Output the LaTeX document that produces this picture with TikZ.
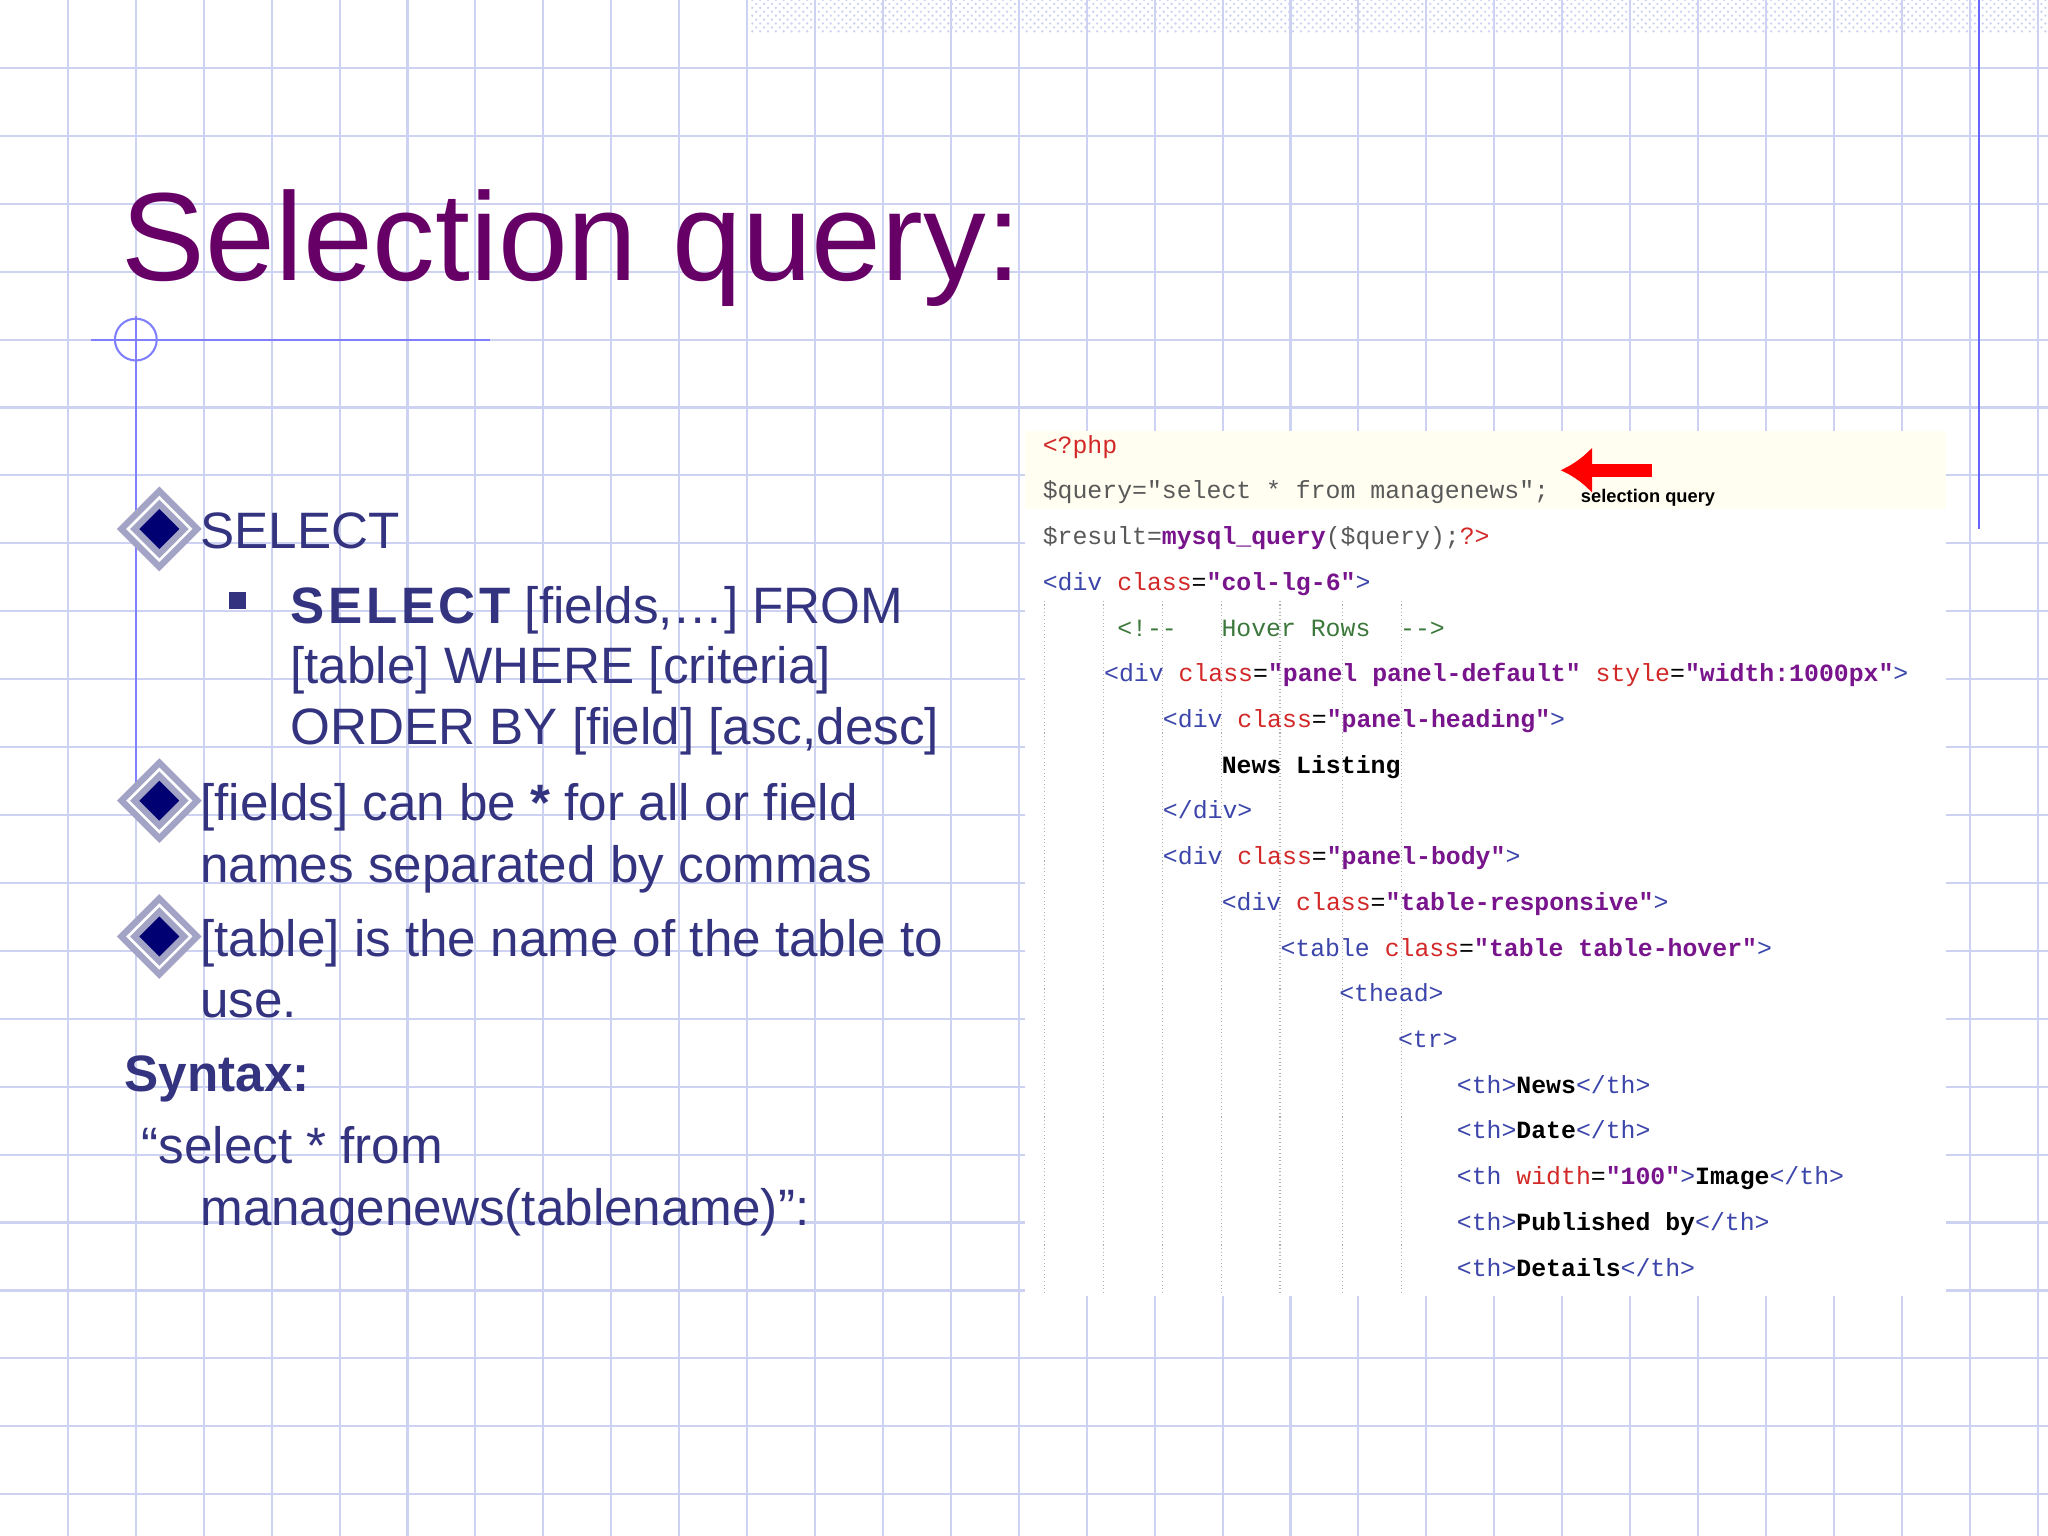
\documentclass[tikz,border=0pt]{standalone}
\usepackage{fontspec}
\setmainfont{Liberation Sans}
\setmonofont{Liberation Mono}
\usetikzlibrary{shapes.geometric,patterns,arrows.meta}
\definecolor{gridblue}{RGB}{205,210,242}
\definecolor{titlepurple}{RGB}{102,0,102}
\definecolor{bodyblue}{RGB}{51,51,128}
\definecolor{tagblue}{RGB}{60,70,170}
\definecolor{attrred}{RGB}{210,40,40}
\definecolor{valpurple}{RGB}{120,20,140}
\definecolor{cmtgreen}{RGB}{60,120,60}
\tikzset{
  gridline/.style={gridblue,line width=0.8pt},
  bodytext/.style={anchor=base west,inner sep=0pt,text=bodyblue,font=\fontsize{19.6}{23}\selectfont},
  codetext/.style={anchor=base west,inner sep=0pt,font=\ttfamily\fontsize{9.5}{11}\selectfont},
  bulletmark/.style={diamond,draw=bodyblue!45,fill=blue!45!black,minimum size=25pt,inner sep=0pt,line width=2.5pt,double=white,double distance=1pt},
  guide/.style={gray!60,densely dotted}
}
\newcommand{\tg}[1]{\textcolor{tagblue}{#1}}
\newcommand{\at}[1]{\textcolor{attrred}{#1}}
\newcommand{\vl}[1]{\textcolor{valpurple}{\bfseries #1}}
\begin{document}
\begin{tikzpicture}[x=0.5pt,y=-0.5pt]
\useasboundingbox (0,0) rectangle (1568,1176);
\fill[white] (0,0) rectangle (1568,1176);
% grid
\foreach \gx in {52,104,...,1560} \draw[gridline] (\gx,0) -- (\gx,1176);
\foreach \gy in {52,104,...,1170} \draw[gridline] (0,\gy) -- (1568,\gy);
\fill[pattern=crosshatch dots,pattern color=gridblue] (575,0) rectangle (1568,25);
\draw[blue!60,line width=0.8pt] (1515,0) -- (1515,405);
% title
\node[anchor=base west,inner sep=0pt,text=titlepurple,font=\fontsize{48}{56}\selectfont] (title) at (93,215) {Selection query:};
\draw[blue!50,line width=0.8pt] (70,260) -- (375,260);
\draw[blue!50,line width=0.8pt] (104,260) circle (16);
\draw[blue!50,line width=0.8pt] (104,242) -- (104,620);
% bullets
\node[bulletmark] (b1) at (122,405) {};
\node[bulletmark] (b2) at (122,613) {};
\node[bulletmark] (b3) at (122,717) {};
\fill[bodyblue] (175,453) rectangle (188,466);
\node[bodytext] (t1) at (153,420) {SELECT};
\node[bodytext] (t2) at (222,477) {\textbf{S\kern1.4pt E\kern1.4pt L\kern1.4pt E\kern1.4pt C\kern1.4pt T} [fields,…] FROM};
\node[bodytext] (t3) at (222,523) {[table] WHERE [criteria]};
\node[bodytext] (t4) at (222,570) {ORDER BY [field] [asc,desc]};
\node[bodytext] (t5) at (153,628) {[fields] can be \textbf{*} for all or field};
\node[bodytext] (t6) at (153,676) {names separated by commas};
\node[bodytext] (t7) at (153,732) {[table] is the name of the table to};
\node[bodytext] (t8) at (153,779) {use.};
\node[bodytext,font=\bfseries\fontsize{19.6}{23}\selectfont] (syn) at (95,836) {Syntax:};
\node[bodytext] (s1) at (108,891) {“select * from};
\node[bodytext] (s2) at (153,938) {managenews(tablename)”:};
% code screenshot
\fill[white] (785,330) rectangle (1490,992);
\fill[yellow!6] (785,330) rectangle (1490,390);
\foreach \gx in {800,845,890,935,980,1028,1073} \draw[guide] (\gx,460) -- (\gx,992);
\node[codetext] (c1) at (798,347) {\at{<?php}};
\node[codetext] (c2) at (798,382) {\textcolor{gray!70!black}{\$query="select * from managenews";}};
\node[codetext] (c3) at (798,417) {\textcolor{gray!70!black}{\$result=}\vl{mysql\_query}\textcolor{gray!70!black}{(\$query);}\at{?>}};
\node[codetext] (c4) at (798,452) {\tg{<div} \at{class}=\vl{"col-lg-6"}\tg{>}};
\node[codetext] (c5) at (855,487) {\textcolor{cmtgreen}{<!--\ \ \ Hover Rows\ \ -->}};
\node[codetext] (c6) at (845,522) {\tg{<div} \at{class}=\vl{"panel panel-default"} \at{style}=\vl{"width:1000px"}\tg{>}};
\node[codetext] (c7) at (890,557) {\tg{<div} \at{class}=\vl{"panel-heading"}\tg{>}};
\node[codetext] (c8) at (935,592) {\bfseries News Listing};
\node[codetext] (c9) at (890,627) {\tg{</div>}};
\node[codetext] (c10) at (890,662) {\tg{<div} \at{class}=\vl{"panel-body"}\tg{>}};
\node[codetext] (c11) at (935,697) {\tg{<div} \at{class}=\vl{"table-responsive"}\tg{>}};
\node[codetext] (c12) at (980,732) {\tg{<table} \at{class}=\vl{"table table-hover"}\tg{>}};
\node[codetext] (c13) at (1025,767) {\tg{<thead>}};
\node[codetext] (c14) at (1070,802) {\tg{<tr>}};
\node[codetext] (c15) at (1115,837) {\tg{<th>}\textbf{News}\tg{</th>}};
\node[codetext] (c16) at (1115,872) {\tg{<th>}\textbf{Date}\tg{</th>}};
\node[codetext] (c17) at (1115,907) {\tg{<th} \at{width}=\vl{"100"}\tg{>}\textbf{Image}\tg{</th>}};
\node[codetext] (c18) at (1115,942) {\tg{<th>}\textbf{Published by}\tg{</th>}};
\node[codetext] (c19) at (1115,977) {\tg{<th>}\textbf{Details}\tg{</th>}};
% arrow annotation
\coordinate (arrtail) at (1265,360);
\draw[red,line width=5pt,-{Latex[length=12pt,width=18pt]}] (arrtail) -- (1195,360);
\node[anchor=base west,inner sep=0pt,font=\bfseries\fontsize{7}{8}\selectfont] (ann) at (1210,385) {selection query};
\end{tikzpicture}
\end{document}
